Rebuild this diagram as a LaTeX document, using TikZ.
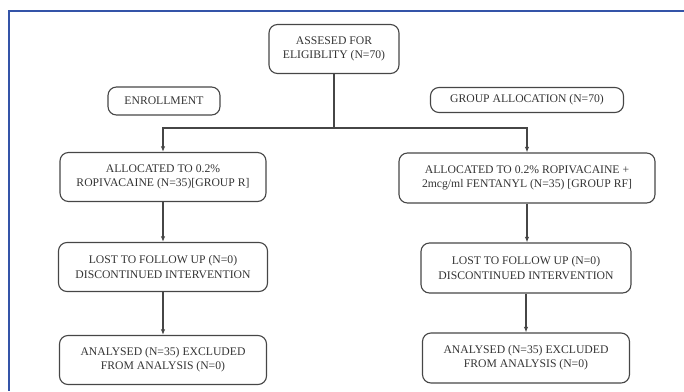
\documentclass[tikz,border=0pt]{standalone}
\usepackage{fontspec}
\setmainfont{Liberation Serif}
\usetikzlibrary{arrows.meta,positioning}
\definecolor{frameblue}{RGB}{52,84,168}
\definecolor{boxline}{RGB}{70,70,70}

\begin{document}
\begin{tikzpicture}[x=0.025cm,y=-0.025cm,>={Latex[length=4pt,width=3.2pt]},
  every node/.style={font=\fontsize{8.3}{10}\selectfont,text=black!80},
  box/.style={draw=boxline,line width=0.8pt,rounded corners=6pt,align=center,inner sep=2pt}]
\useasboundingbox (0,0) rectangle (684,391);
\draw[frameblue,line width=1pt] (684,11) -- (9,11) -- (9,391);
\node[box,minimum width=130*0.025cm,minimum height=49*0.025cm] (assess) at (334,49) {ASSESED FOR\\ELIGIBLITY (N=70)};
\node[box,minimum width=112*0.025cm,minimum height=28*0.025cm] (enrol) at (164,101) {ENROLLMENT};
\node[box,minimum width=193*0.025cm,minimum height=25*0.025cm] (galloc) at (527,100) {GROUP ALLOCATION (N=70)};
\node[box,minimum width=206*0.025cm,minimum height=49*0.025cm] (allocR) at (163,177) {ALLOCATED TO 0.2\%\\ROPIVACAINE (N=35)[GROUP R]};
\node[box,minimum width=256*0.025cm,minimum height=50*0.025cm] (allocRF) at (527,178) {ALLOCATED TO 0.2\% ROPIVACAINE +\\2mcg/ml FENTANYL (N=35) [GROUP RF]};
\node[box,minimum width=209*0.025cm,minimum height=49*0.025cm] (lostR) at (163,267) {LOST TO FOLLOW UP (N=0)\\DISCONTINUED INTERVENTION};
\node[box,minimum width=210*0.025cm,minimum height=50*0.025cm] (lostRF) at (526,268) {LOST TO FOLLOW UP (N=0)\\DISCONTINUED INTERVENTION};
\node[box,minimum width=207*0.025cm,minimum height=49*0.025cm] (anaR) at (163,360) {ANALYSED (N=35) EXCLUDED\\FROM ANALYSIS (N=0)};
\node[box,minimum width=207*0.025cm,minimum height=50*0.025cm] (anaRF) at (526,358) {ANALYSED (N=35) EXCLUDED\\FROM ANALYSIS (N=0)};
\coordinate (split) at (assess.south |- 0,128);
\draw[boxline,line width=0.8pt] (assess.south) -- (split);
\draw[->,boxline,line width=0.8pt] (split) -| (allocR.north);
\draw[->,boxline,line width=0.8pt] (split) -| (allocRF.north);
\foreach \a/\b in {allocR/lostR,lostR/anaR,allocRF/lostRF,lostRF/anaRF} \draw[->,boxline,line width=0.8pt] (\a.south) -- (\a.south |- \b.north);
\end{tikzpicture}
\end{document}
